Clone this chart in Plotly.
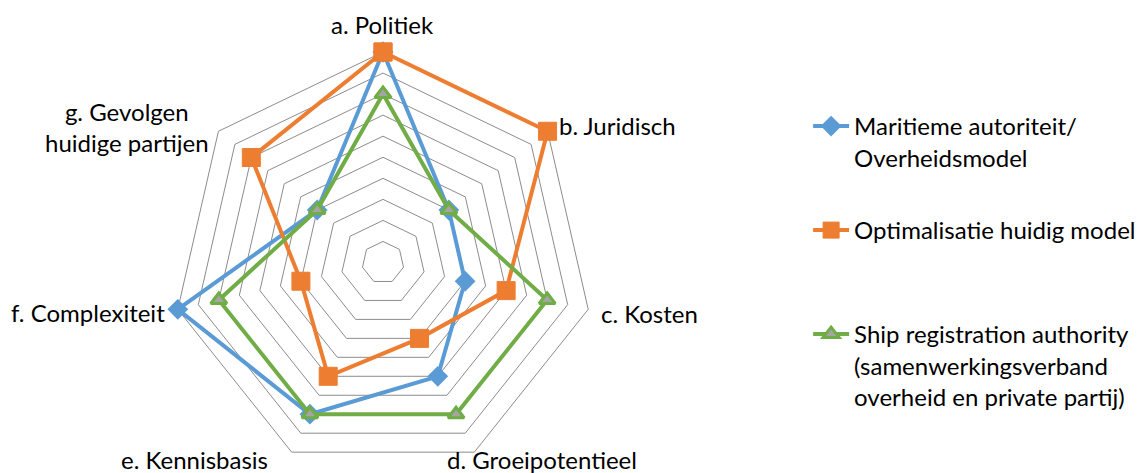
import plotly.graph_objects as go

categories = ["a. Politiek", "b. Juridisch", "c. Kosten", "d. Groeipotentieel",
              "e. Kennisbasis", "f. Complexiteit", "g. Gevolgen<br>huidige partijen"]
maritiem = [10, 4, 4, 6, 8, 10, 4]
optimalisatie = [10, 10, 6, 4, 6, 4, 8]
ship_reg = [8, 4, 8, 8, 8, 8, 4]
names = ["Maritieme autoriteit/<br>Overheidsmodel",
         "Optimalisatie huidig model",
         "Ship registration authority<br>(samenwerkingsverband<br>overheid en private partij)"]

FONT = "Lato"
FS = 24
fig = go.Figure()

def closed(v):
    return v + v[:1]

cats = closed(categories)
fig.add_trace(go.Scatterpolar(r=closed(maritiem), theta=cats, name=names[0], mode="lines+markers",
                              line=dict(color="#5B9BD5", width=4), cliponaxis=False,
                              marker=dict(symbol="diamond", size=16, color="#5B9BD5"),
                              legend="legend"))
fig.add_trace(go.Scatterpolar(r=closed(optimalisatie), theta=cats, name=names[1], mode="lines+markers",
                              line=dict(color="#ED7D31", width=4), cliponaxis=False,
                              marker=dict(symbol="square", size=18, color="#ED7D31",
                                          line=dict(color="#ED7D31", width=1)),
                              legend="legend2"))
fig.add_trace(go.Scatterpolar(r=closed(ship_reg), theta=cats, name=names[2], mode="lines+markers",
                              line=dict(color="#70AD47", width=4), cliponaxis=False,
                              marker=dict(symbol="triangle-up", size=14, color="#A5A5A5",
                                          line=dict(color="#70AD47", width=3)),
                              legend="legend3"))

# the page body adds an 8px offset; positions below compensate for it
OFF = 8
W, H = 1143, 473
RMAX = 10.15
cx, cy = 383 - OFF, 262.5 - OFF
R = 210.5 * RMAX / 10

def leg(ytop):
    return dict(x=0.700, y=ytop, xanchor="left", yanchor="top", valign="top",
                itemwidth=36,
                font=dict(family=FONT, size=FS, color="#000000"),
                bgcolor="rgba(0,0,0,0)")

# category label placement (screen px: anchor x, middle y, x-anchor)
label_pos = [(382, 25, "center"), (557, 125, "left"), (599, 313, "left"),
             (445, 459, "left"), (270, 459, "right"), (167, 312, "right"),
             (126.5, 127, "center")]
annotations = []
for text, (lx, ly, anc) in zip(categories, label_pos):
    annotations.append(dict(text=text, x=(lx - OFF) / W, y=1 - (ly - OFF) / H,
                            xref="paper", yref="paper", xanchor=anc, yanchor="middle",
                            align="center", showarrow=False,
                            font=dict(family=FONT, size=FS, color="#000000")))

fig.update_layout(
    width=W, height=H,
    margin=dict(l=0, r=0, t=0, b=0),
    paper_bgcolor="white", plot_bgcolor="white",
    font=dict(family=FONT, size=FS, color="#000000"),
    polar=dict(
        domain=dict(x=[(cx - R) / W, (cx + R) / W], y=[(H - cy - R) / H, (H - cy + R) / H]),
        bgcolor="white",
        gridshape="linear",
        radialaxis=dict(range=[0, RMAX], tickvals=list(range(1, 11)), showticklabels=False,
                        ticks="", showline=False, gridcolor="#8C8C8C", gridwidth=1),
        angularaxis=dict(rotation=90, direction="clockwise", showgrid=False,
                         showline=False, ticks="", showticklabels=False),
    ),
    annotations=annotations,
    legend=leg(1 - 96 / H),
    legend2=leg(1 - 200 / H),
    legend3=leg(1 - 304 / H),
    showlegend=True,
)

fig.write_html("out.html")
